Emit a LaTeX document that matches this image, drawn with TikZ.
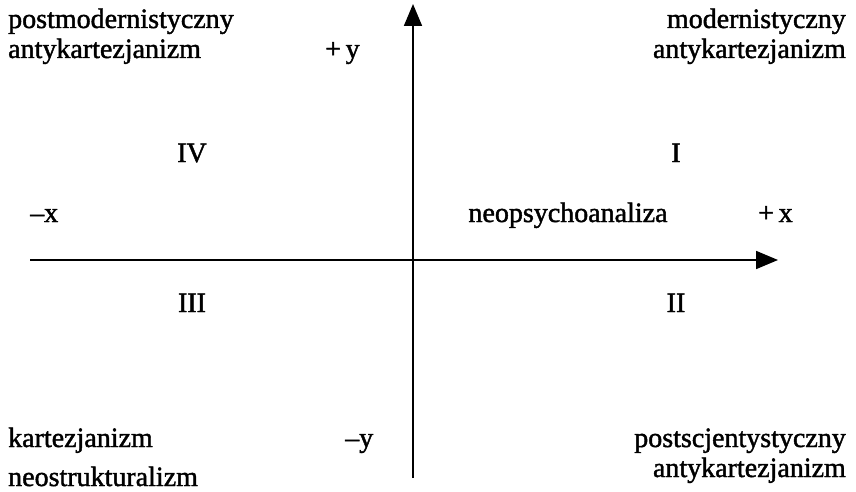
\documentclass[tikz,border=0pt]{standalone}
\usepackage{fontspec}
\setmainfont{Liberation Serif}[BoldFont={Liberation Serif},BoldFeatures={FakeBold=1.5}]
\usetikzlibrary{arrows.meta}
\begin{document}
\begin{tikzpicture}[x=1pt,y=-1pt,
  lbl/.style={inner sep=0pt,font=\fontsize{28}{30}\selectfont\bfseries},
  axis/.style={line width=1.8pt,-{Triangle[length=22pt,width=18pt]}}]
\useasboundingbox (0,0) rectangle (856,492);
% axes
\coordinate (xl) at (30,260);
\coordinate (xr) at (778,260);
\coordinate (yb) at (413,478);
\coordinate (yt) at (413,4);
\draw[axis] (xl) -- (xr);
\draw[axis] (yb) -- (yt);
% top-left
\node[lbl,anchor=base west] (pm1) at (8,28) {postmodernistyczny};
\node[lbl,anchor=base west] (pm2) at (8,58) {antykartezjanizm};
\node[lbl,anchor=base west] (py) at (325,58) {+\,y};
% top-right
\node[lbl,anchor=base east] (m1) at (846,28) {modernistyczny};
\node[lbl,anchor=base east] (m2) at (846,58) {antykartezjanizm};
% quadrants
\node[lbl,anchor=base] (q4) at (192,162) {IV};
\node[lbl,anchor=base] (q1) at (676,162) {I};
\node[lbl,anchor=base] (q3) at (192,312) {III};
\node[lbl,anchor=base] (q2) at (676,312) {II};
% x labels
\node[lbl,anchor=base west] (mx) at (30,222) {–x};
\node[lbl,anchor=base] (neo) at (568,222) {neopsychoanaliza};
\node[lbl,anchor=base west] (px) at (758,222) {+\,x};
% bottom
\node[lbl,anchor=base west] (k) at (8,447) {kartezjanizm};
\node[lbl,anchor=base west] (my) at (345,447) {–y};
\node[lbl,anchor=base east] (ps1) at (846,447) {postscjentystyczny};
\node[lbl,anchor=base east] (ps2) at (846,477) {antykartezjanizm};
\node[lbl,anchor=base west] (ns) at (8,486) {neostrukturalizm};
\end{tikzpicture}
\end{document}
